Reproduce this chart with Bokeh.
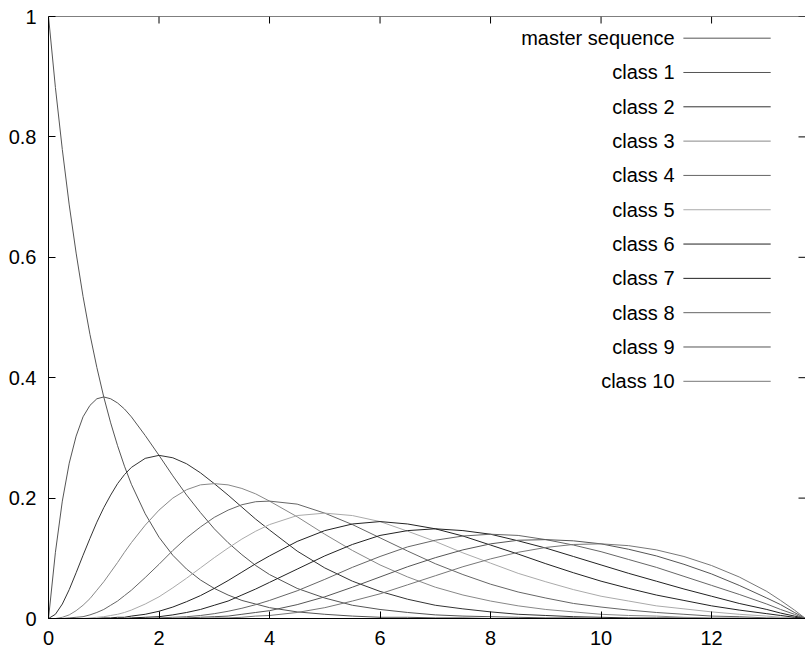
from bokeh.plotting import figure
from bokeh.models import FixedTicker, Range1d, ColumnDataSource, Span
from bokeh.embed import file_html
from bokeh.resources import INLINE
from bokeh.core.properties import value

# ---- data ----
t = [0, 0.125, 0.25, 0.375, 0.5, 0.625, 0.75, 0.875, 1, 1.125, 1.25, 1.375, 1.5, 1.75,
     2, 2.25, 2.5, 2.75, 3, 3.25, 3.5, 3.75, 4,
     4.5, 5, 5.5, 6, 6.5, 7, 7.5, 8, 8.5, 9, 9.5, 10, 10.5, 11, 11.5, 12, 12.5, 13,
     13.25, 13.5, 13.6, 13.7]

master_sequence = [1.000, 0.882, 0.779, 0.687, 0.607, 0.535, 0.472, 0.417, 0.368, 0.325, 0.287,
                   0.253, 0.223, 0.174, 0.135, 0.105, 0.082, 0.064, 0.050, 0.039, 0.030, 0.024,
                   0.018, 0.011, 0.007, 0.004, 0.002, 0.002, 0.001, 0.001, 0.000, 0.000, 0.000,
                   0.000, 0.000, 0.000, 0.000, 0.000, 0.000, 0.000, 0.000, 0.000, 0.000, 0.000,
                   0.000]
class_1 = [0.000, 0.110, 0.195, 0.258, 0.303, 0.335, 0.354, 0.365, 0.368, 0.365, 0.358,
           0.348, 0.335, 0.304, 0.271, 0.237, 0.205, 0.176, 0.149, 0.126, 0.106, 0.088,
           0.073, 0.050, 0.034, 0.022, 0.015, 0.010, 0.006, 0.004, 0.003, 0.002, 0.001,
           0.001, 0.000, 0.000, 0.000, 0.000, 0.000, 0.000, 0.000, 0.000, 0.000, 0.000,
           0.000]
class_2 = [0.000, 0.007, 0.024, 0.048, 0.076, 0.105, 0.133, 0.160, 0.184, 0.205, 0.224,
           0.239, 0.251, 0.266, 0.271, 0.267, 0.257, 0.242, 0.224, 0.205, 0.185, 0.165,
           0.147, 0.112, 0.084, 0.062, 0.045, 0.032, 0.022, 0.016, 0.011, 0.007, 0.005,
           0.003, 0.002, 0.001, 0.001, 0.001, 0.000, 0.000, 0.000, 0.000, 0.000, 0.000,
           0.000]
class_3 = [0.000, 0.000, 0.002, 0.006, 0.013, 0.022, 0.033, 0.047, 0.061, 0.077, 0.093,
           0.110, 0.126, 0.155, 0.180, 0.200, 0.214, 0.222, 0.224, 0.222, 0.216, 0.207,
           0.195, 0.169, 0.140, 0.113, 0.089, 0.069, 0.052, 0.039, 0.029, 0.021, 0.015,
           0.011, 0.007, 0.005, 0.004, 0.002, 0.001, 0.001, 0.000, 0.000, 0.000, 0.000,
           0.000]
class_4 = [0.000, 0.000, 0.000, 0.001, 0.002, 0.003, 0.006, 0.010, 0.015, 0.022, 0.029,
           0.038, 0.047, 0.068, 0.090, 0.113, 0.134, 0.152, 0.168, 0.180, 0.189, 0.194,
           0.195, 0.190, 0.175, 0.156, 0.134, 0.112, 0.091, 0.073, 0.057, 0.044, 0.034,
           0.025, 0.019, 0.014, 0.010, 0.007, 0.004, 0.003, 0.001, 0.001, 0.000, 0.000,
           0.000]
class_5 = [0.000, 0.000, 0.000, 0.000, 0.000, 0.000, 0.001, 0.002, 0.003, 0.005, 0.007,
           0.010, 0.014, 0.024, 0.036, 0.051, 0.067, 0.084, 0.101, 0.117, 0.132, 0.145,
           0.156, 0.171, 0.175, 0.171, 0.161, 0.145, 0.128, 0.109, 0.092, 0.075, 0.061,
           0.048, 0.037, 0.029, 0.021, 0.016, 0.011, 0.007, 0.004, 0.002, 0.001, 0.000,
           0.000]
class_6 = [0.000, 0.000, 0.000, 0.000, 0.000, 0.000, 0.000, 0.000, 0.001, 0.001, 0.002,
           0.002, 0.004, 0.007, 0.012, 0.019, 0.028, 0.038, 0.050, 0.063, 0.077, 0.091,
           0.104, 0.128, 0.146, 0.157, 0.161, 0.157, 0.149, 0.137, 0.122, 0.107, 0.091,
           0.076, 0.062, 0.050, 0.039, 0.030, 0.021, 0.014, 0.008, 0.005, 0.002, 0.001,
           0.000]
class_7 = [0.000, 0.000, 0.000, 0.000, 0.000, 0.000, 0.000, 0.000, 0.000, 0.000, 0.000,
           0.000, 0.001, 0.002, 0.003, 0.006, 0.010, 0.015, 0.022, 0.029, 0.039, 0.049,
           0.060, 0.082, 0.104, 0.123, 0.138, 0.146, 0.149, 0.146, 0.140, 0.129, 0.117,
           0.103, 0.089, 0.075, 0.062, 0.049, 0.037, 0.025, 0.015, 0.009, 0.004, 0.002,
           0.000]
class_8 = [0.000, 0.000, 0.000, 0.000, 0.000, 0.000, 0.000, 0.000, 0.000, 0.000, 0.000,
           0.000, 0.000, 0.000, 0.001, 0.002, 0.003, 0.005, 0.008, 0.012, 0.017, 0.023,
           0.030, 0.046, 0.065, 0.085, 0.103, 0.119, 0.130, 0.137, 0.140, 0.138, 0.131,
           0.122, 0.111, 0.098, 0.085, 0.070, 0.055, 0.040, 0.024, 0.015, 0.007, 0.003,
           0.000]
class_9 = [0.000, 0.000, 0.000, 0.000, 0.000, 0.000, 0.000, 0.000, 0.000, 0.000, 0.000,
           0.000, 0.000, 0.000, 0.000, 0.000, 0.001, 0.002, 0.003, 0.004, 0.007, 0.010,
           0.013, 0.023, 0.036, 0.052, 0.069, 0.086, 0.101, 0.114, 0.124, 0.130, 0.131,
           0.129, 0.124, 0.115, 0.104, 0.090, 0.074, 0.055, 0.034, 0.023, 0.010, 0.005,
           0.000]
class_10 = [0.000, 0.000, 0.000, 0.000, 0.000, 0.000, 0.000, 0.000, 0.000, 0.000, 0.000,
            0.000, 0.000, 0.000, 0.000, 0.000, 0.000, 0.000, 0.001, 0.001, 0.002, 0.004,
            0.005, 0.010, 0.018, 0.029, 0.041, 0.056, 0.071, 0.086, 0.099, 0.110, 0.118,
            0.123, 0.124, 0.121, 0.114, 0.103, 0.088, 0.069, 0.045, 0.030, 0.014, 0.007,
            0.000]

series_names = ["master sequence", "class 1", "class 2", "class 3", "class 4", "class 5",
                "class 6", "class 7", "class 8", "class 9", "class 10"]
series_values = [master_sequence, class_1, class_2, class_3, class_4, class_5,
                 class_6, class_7, class_8, class_9, class_10]

x_ticks = [0, 2, 4, 6, 8, 10, 12]
y_ticks = [0, 0.2, 0.4, 0.6, 0.8, 1]
y_tick_labels = ["0", "0.2", "0.4", "0.6", "0.8", "1"]

# ---- styles / layout ----
series_colors = ["#555555", "#555555", "#333333", "#888888", "#666666", "#aaaaaa",
                 "#222222", "#222222", "#666666", "#555555", "#777777"]
FONT = "Liberation Sans"
FONT_SIZE = "20px"
W, H = 805, 652
BORDER_L, BORDER_T, BORDER_B = 48, 16, 34
X_MAX, Y_MAX = 13.7, 1.0
TICK_PX = 7

p = figure(width=W, height=H, output_backend="svg", toolbar_location=None,
           x_range=Range1d(0, X_MAX), y_range=Range1d(0, Y_MAX),
           min_border_left=BORDER_L, min_border_right=0, min_border_top=BORDER_T,
           min_border_bottom=BORDER_B)
p.outline_line_color = None
p.xgrid.visible = False
p.ygrid.visible = False
p.background_fill_color = "white"
p.border_fill_color = "white"

for ax in list(p.xaxis) + list(p.yaxis):
    ax.major_tick_in = TICK_PX
    ax.major_tick_out = 0
    ax.minor_tick_line_color = None
    ax.major_tick_line_color = "black"
    ax.axis_line_color = "black"
    ax.major_label_text_font = FONT
    ax.major_label_text_font_size = FONT_SIZE
    ax.major_label_text_color = "black"
    ax.major_label_standoff = 12
p.xaxis.ticker = FixedTicker(ticks=x_ticks)
p.yaxis.ticker = FixedTicker(ticks=y_ticks)
p.yaxis.major_label_overrides = {v: s for v, s in zip(y_ticks, y_tick_labels)}

# top border with mirrored (inward) ticks, and mirrored ticks on the right side
p.add_layout(Span(location=Y_MAX, dimension="width", line_color="black", line_width=1))
frame_w = W - BORDER_L
frame_h = H - BORDER_T - BORDER_B
dy_tick = TICK_PX * Y_MAX / frame_h
dx_tick = TICK_PX * X_MAX / frame_w
p.segment(x0=x_ticks, x1=x_ticks, y0=[Y_MAX] * len(x_ticks),
          y1=[Y_MAX - dy_tick] * len(x_ticks), line_color="black", line_width=1)
p.segment(x0=[X_MAX - dx_tick] * len(y_ticks), x1=[X_MAX] * len(y_ticks),
          y0=y_ticks, y1=y_ticks, line_color="black", line_width=1)

src = ColumnDataSource({"t": t, **{n: v for n, v in zip(series_names, series_values)}})
for name, col in zip(series_names, series_colors):
    p.line(x="t", y=name, source=src, line_color=col, line_width=1)

# ---- gnuplot-style key (text right-aligned, sample line to its right) ----
LEG_TEXT_X = 11.33
LEG_LINE_X0, LEG_LINE_X1 = 11.49, 13.07
LEG_TOP, LEG_STEP = 0.964, 0.057
rows = [LEG_TOP - i * LEG_STEP for i in range(len(series_names))]
p.text(x=[LEG_TEXT_X] * len(rows), y=rows, text=series_names,
       text_font=value(FONT), text_font_size=value(FONT_SIZE), text_color="black",
       text_align="right", text_baseline="middle")
p.segment(x0=[LEG_LINE_X0] * len(rows), x1=[LEG_LINE_X1] * len(rows), y0=rows, y1=rows,
          line_color=series_colors, line_width=1)

open("out.html", "w").write(file_html(p, INLINE))
